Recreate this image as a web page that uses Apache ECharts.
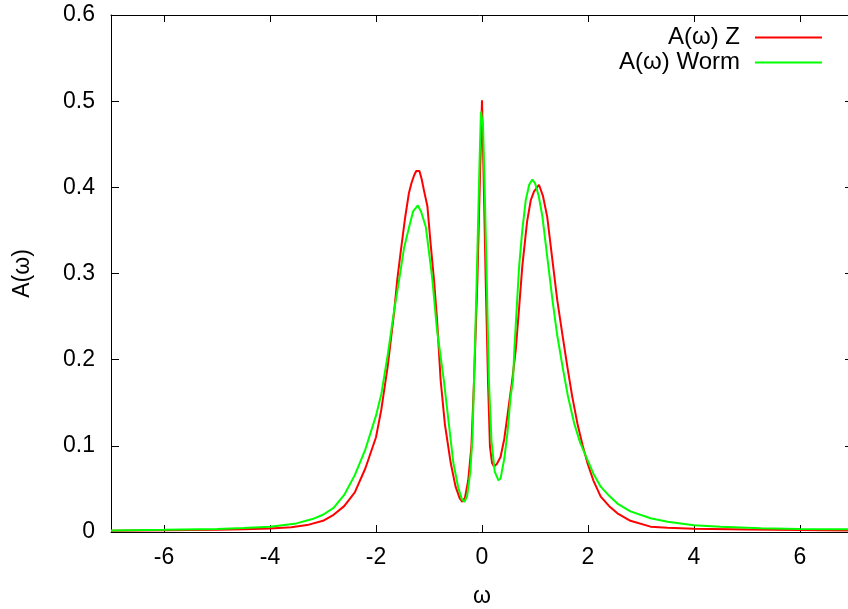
<!DOCTYPE html>
<html>
<head>
<meta charset="utf-8">
<script src="https://cdn.jsdelivr.net/npm/echarts@6/dist/echarts.min.js"></script>
<style>
html,body{margin:0;padding:0;background:#fff;}
#chart{width:848px;height:609px;}
</style>
</head>
<body>
<div id="chart"></div>
<script>
// ---- data ----
var omegaZ = [-7.0,-6.0,-5.0,-4.5,-4.0,-3.6,-3.3,-3.0,-2.8,-2.6,-2.4,-2.2,-2.0,-1.9,-1.78,-1.66,-1.6,-1.53,-1.45,-1.38,-1.33,-1.28,-1.24,-1.18,-1.14,-1.09,-1.03,-0.97,-0.905,-0.85,-0.78,-0.7,-0.59,-0.5,-0.42,-0.37,-0.32,-0.26,-0.2,-0.15,-0.087,-0.035,0.0,0.035,0.07,0.113,0.15,0.19,0.226,0.28,0.35,0.42,0.48,0.57,0.636,0.7,0.76,0.85,0.92,0.98,1.075,1.15,1.23,1.32,1.42,1.52,1.61,1.7,1.8,1.9,1.99,2.1,2.24,2.4,2.555,2.8,3.18,3.5,4.0,5.0,6.0,7.0];
var aZ     = [0.0015,0.0020,0.0026,0.0032,0.0040,0.0055,0.0080,0.013,0.020,0.030,0.046,0.074,0.110,0.142,0.192,0.254,0.292,0.327,0.365,0.393,0.405,0.414,0.419,0.419,0.410,0.395,0.378,0.335,0.292,0.248,0.176,0.125,0.080,0.053,0.039,0.035,0.040,0.060,0.099,0.176,0.292,0.42,0.501,0.40,0.292,0.176,0.099,0.080,0.076,0.079,0.087,0.108,0.135,0.176,0.211,0.26,0.308,0.36,0.385,0.395,0.403,0.39,0.366,0.32,0.269,0.228,0.192,0.158,0.126,0.100,0.080,0.060,0.041,0.030,0.0217,0.013,0.0062,0.0050,0.0039,0.0028,0.0022,0.0018];

var omegaWorm = [-7.0,-6.0,-5.0,-4.5,-4.0,-3.5,-3.2,-3.0,-2.8,-2.6,-2.4,-2.2,-2.0,-1.9,-1.78,-1.66,-1.565,-1.47,-1.375,-1.3,-1.21,-1.15,-1.06,-0.97,-0.935,-0.85,-0.72,-0.54,-0.45,-0.38,-0.33,-0.28,-0.22,-0.18,-0.15,-0.1,-0.05,-0.02,0.02,0.05,0.09,0.13,0.18,0.24,0.31,0.35,0.42,0.48,0.54,0.585,0.61,0.655,0.7,0.76,0.825,0.89,0.95,1.0,1.07,1.14,1.23,1.33,1.42,1.52,1.62,1.74,1.85,1.99,2.1,2.24,2.4,2.555,2.8,3.18,3.5,4.0,4.5,5.26,6.0,7.0];
var aWorm     = [0.0018,0.0025,0.0035,0.0045,0.0060,0.0100,0.0150,0.020,0.028,0.043,0.066,0.096,0.135,0.160,0.205,0.256,0.292,0.330,0.354,0.372,0.379,0.372,0.354,0.310,0.292,0.235,0.176,0.080,0.052,0.038,0.035,0.042,0.070,0.110,0.176,0.292,0.42,0.488,0.47,0.40,0.292,0.176,0.105,0.070,0.060,0.062,0.085,0.115,0.157,0.176,0.211,0.26,0.308,0.35,0.385,0.403,0.409,0.405,0.39,0.366,0.32,0.269,0.228,0.192,0.158,0.126,0.104,0.0836,0.068,0.0526,0.042,0.033,0.024,0.0159,0.012,0.0078,0.0060,0.0043,0.0035,0.0030];

var seriesNames = ['A(\u03c9) Z', 'A(\u03c9) Worm'];
var xTitle = '\u03c9';
var yTitle = 'A(\u03c9)';

function pairs(xs, ys){ return xs.map(function(x,i){ return [x, ys[i]]; }); }

var FONT = 'Liberation Sans, Arial, sans-serif';
var FS = 23;
var chart = echarts.init(document.getElementById('chart'), null, {renderer:'canvas'});

var axisLineStyle = {color:'#000', width:1};
chart.setOption({
  animation:false,
  backgroundColor:'#fff',
  grid:{left:111, top:15, width:742, height:517, containLabel:false, outerBoundsMode:'none'},
  legend:{
    orient:'vertical', align:'right', right:26, top:25, padding:0,
    itemWidth:67, itemHeight:2, itemGap:0, icon:'rect',
    textStyle:{fontFamily:FONT, fontSize:24, color:'#000', lineHeight:25, padding:[0,10,0,0]},
    data:seriesNames
  },
  xAxis:[{
    type:'value', min:-7, max:7, splitNumber:7, position:'bottom',
    name:xTitle, nameLocation:'middle', nameGap:53,
    nameTextStyle:{fontFamily:FONT, fontSize:FS, color:'#000'},
    axisLine:{show:true, onZero:false, lineStyle:axisLineStyle},
    axisTick:{show:true, inside:true, length:7, lineStyle:axisLineStyle},
    axisLabel:{fontFamily:FONT, fontSize:FS, color:'#000', margin:14, showMinLabel:false, showMaxLabel:false,
      formatter:function(v){ return (Math.round(v)%2===0) ? String(v) : ''; }},
    splitLine:{show:false}
  },{
    type:'value', min:-7, max:7, splitNumber:7, position:'top',
    axisLine:{show:true, onZero:false, lineStyle:axisLineStyle},
    axisTick:{show:true, inside:true, length:7, lineStyle:axisLineStyle},
    axisLabel:{show:false}, splitLine:{show:false}
  }],
  yAxis:[{
    type:'value', min:0, max:0.6, interval:0.1, position:'left',
    name:yTitle, nameLocation:'middle', nameGap:77, nameRotate:90,
    nameTextStyle:{fontFamily:FONT, fontSize:FS, color:'#000'},
    axisLine:{show:true, onZero:false, lineStyle:axisLineStyle},
    axisTick:{show:true, inside:true, length:8, lineStyle:axisLineStyle},
    axisLabel:{fontFamily:FONT, fontSize:FS, color:'#000', margin:16,
      formatter:function(v){ return v===0 ? '0' : v.toFixed(1); }},
    splitLine:{show:false}
  },{
    type:'value', min:0, max:0.6, interval:0.1, position:'right',
    axisLine:{show:true, onZero:false, lineStyle:axisLineStyle},
    axisTick:{show:true, inside:true, length:8, lineStyle:axisLineStyle},
    axisLabel:{show:false}, splitLine:{show:false}
  }],
  series:[{
    name:seriesNames[0], type:'line', xAxisIndex:0, yAxisIndex:0,
    data:pairs(omegaZ, aZ), showSymbol:false, smooth:false,
    lineStyle:{color:'#ff0000', width:2}, itemStyle:{color:'#ff0000'}
  },{
    name:seriesNames[1], type:'line', xAxisIndex:0, yAxisIndex:0,
    data:pairs(omegaWorm, aWorm), showSymbol:false, smooth:false,
    lineStyle:{color:'#00ff00', width:2}, itemStyle:{color:'#00ff00'}
  }]
});
</script>
</body>
</html>
